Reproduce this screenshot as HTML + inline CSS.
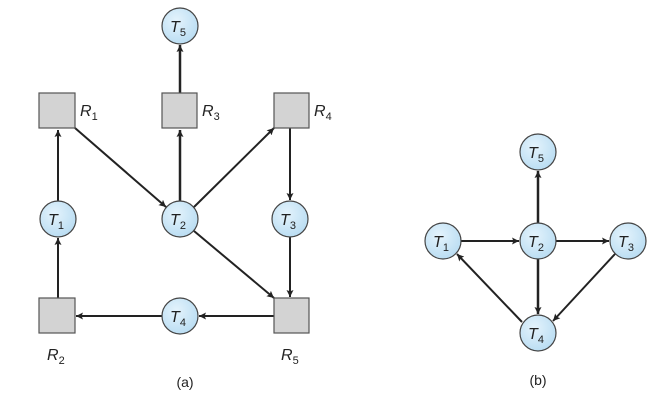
<!DOCTYPE html>
<html><head><style>body{margin:0;background:#fff}svg{display:block}</style></head><body>
<svg width="662" height="410" viewBox="0 0 662 410" xmlns="http://www.w3.org/2000/svg" font-family="Liberation Sans, sans-serif">
<defs>
<marker id="a" viewBox="0 0 10 10" refX="10" refY="5" markerWidth="7" markerHeight="7" markerUnits="userSpaceOnUse" orient="auto"><path d="M0,0L10,5L0,10L2,5z" fill="#222"/></marker>
<radialGradient id="g" cx="40%" cy="35%" r="70%"><stop offset="0" stop-color="#e4f3fc"/><stop offset="1" stop-color="#b8dcf2"/></radialGradient>
</defs>
<g stroke="#222" stroke-width="2" fill="none" marker-end="url(#a)">
<line x1="180" y1="93" x2="180" y2="45" stroke-width="2.5"/>
<line x1="58" y1="201" x2="58" y2="130"/>
<line x1="58" y1="298" x2="58" y2="238"/>
<line x1="75" y1="128" x2="166" y2="207"/>
<line x1="180" y1="201" x2="180" y2="130" stroke-width="2.5"/>
<line x1="194" y1="207" x2="274" y2="128"/>
<line x1="290" y1="128" x2="290" y2="200"/>
<line x1="290" y1="237" x2="290" y2="297"/>
<line x1="194" y1="231" x2="274" y2="298"/>
<line x1="274" y1="316" x2="199" y2="316"/>
<line x1="162" y1="316" x2="76" y2="316"/>
<line x1="538" y1="223" x2="538" y2="171" stroke-width="2.5"/>
<line x1="461" y1="241" x2="519" y2="241"/>
<line x1="556" y1="241" x2="609" y2="241"/>
<line x1="538" y1="259" x2="538" y2="314" stroke-width="2.5"/>
<line x1="615" y1="254" x2="553" y2="321"/>
<line x1="522" y1="322" x2="457" y2="254"/>
</g>
<g fill="#d3d3d3" stroke="#555" stroke-width="1.2">
<rect x="39" y="93" width="36" height="35"/><rect x="162" y="93" width="35" height="35"/><rect x="274" y="93" width="35" height="35"/>
<rect x="39" y="298" width="36" height="35"/><rect x="274" y="298" width="35" height="35"/>
</g>
<g fill="url(#g)" stroke="#444" stroke-width="1.2">
<circle cx="180" cy="26" r="18"/><circle cx="58" cy="219" r="18"/><circle cx="180" cy="219" r="18"/><circle cx="290" cy="219" r="18"/><circle cx="180" cy="316" r="18"/>
<circle cx="538" cy="152" r="18"/><circle cx="443" cy="241" r="18"/><circle cx="538" cy="241" r="18"/><circle cx="628" cy="241" r="18"/><circle cx="538" cy="333" r="18"/>
</g>
<g font-size="16" font-style="italic" fill="#222" text-anchor="middle">
<text x="178" y="32">T<tspan font-size="11" font-style="normal" dy="4">5</tspan></text>
<text x="56" y="225">T<tspan font-size="11" font-style="normal" dy="4">1</tspan></text>
<text x="178" y="225">T<tspan font-size="11" font-style="normal" dy="4">2</tspan></text>
<text x="288" y="225">T<tspan font-size="11" font-style="normal" dy="4">3</tspan></text>
<text x="178" y="322">T<tspan font-size="11" font-style="normal" dy="4">4</tspan></text>
<text x="536" y="158">T<tspan font-size="11" font-style="normal" dy="4">5</tspan></text>
<text x="441" y="247">T<tspan font-size="11" font-style="normal" dy="4">1</tspan></text>
<text x="536" y="247">T<tspan font-size="11" font-style="normal" dy="4">2</tspan></text>
<text x="626" y="247">T<tspan font-size="11" font-style="normal" dy="4">3</tspan></text>
<text x="536" y="339">T<tspan font-size="11" font-style="normal" dy="4">4</tspan></text>
</g>
<g font-size="16" font-style="italic" fill="#222">
<text x="80" y="116">R<tspan font-size="11" font-style="normal" dy="4">1</tspan></text>
<text x="202" y="116">R<tspan font-size="11" font-style="normal" dy="4">3</tspan></text>
<text x="314" y="116">R<tspan font-size="11" font-style="normal" dy="4">4</tspan></text>
<text x="47" y="360">R<tspan font-size="11" font-style="normal" dy="4">2</tspan></text>
<text x="281" y="360">R<tspan font-size="11" font-style="normal" dy="4">5</tspan></text>
</g>
<g font-size="14" fill="#222" text-anchor="middle">
<text x="185" y="387">(a)</text><text x="538" y="385">(b)</text>
</g>
</svg>
</body></html>
